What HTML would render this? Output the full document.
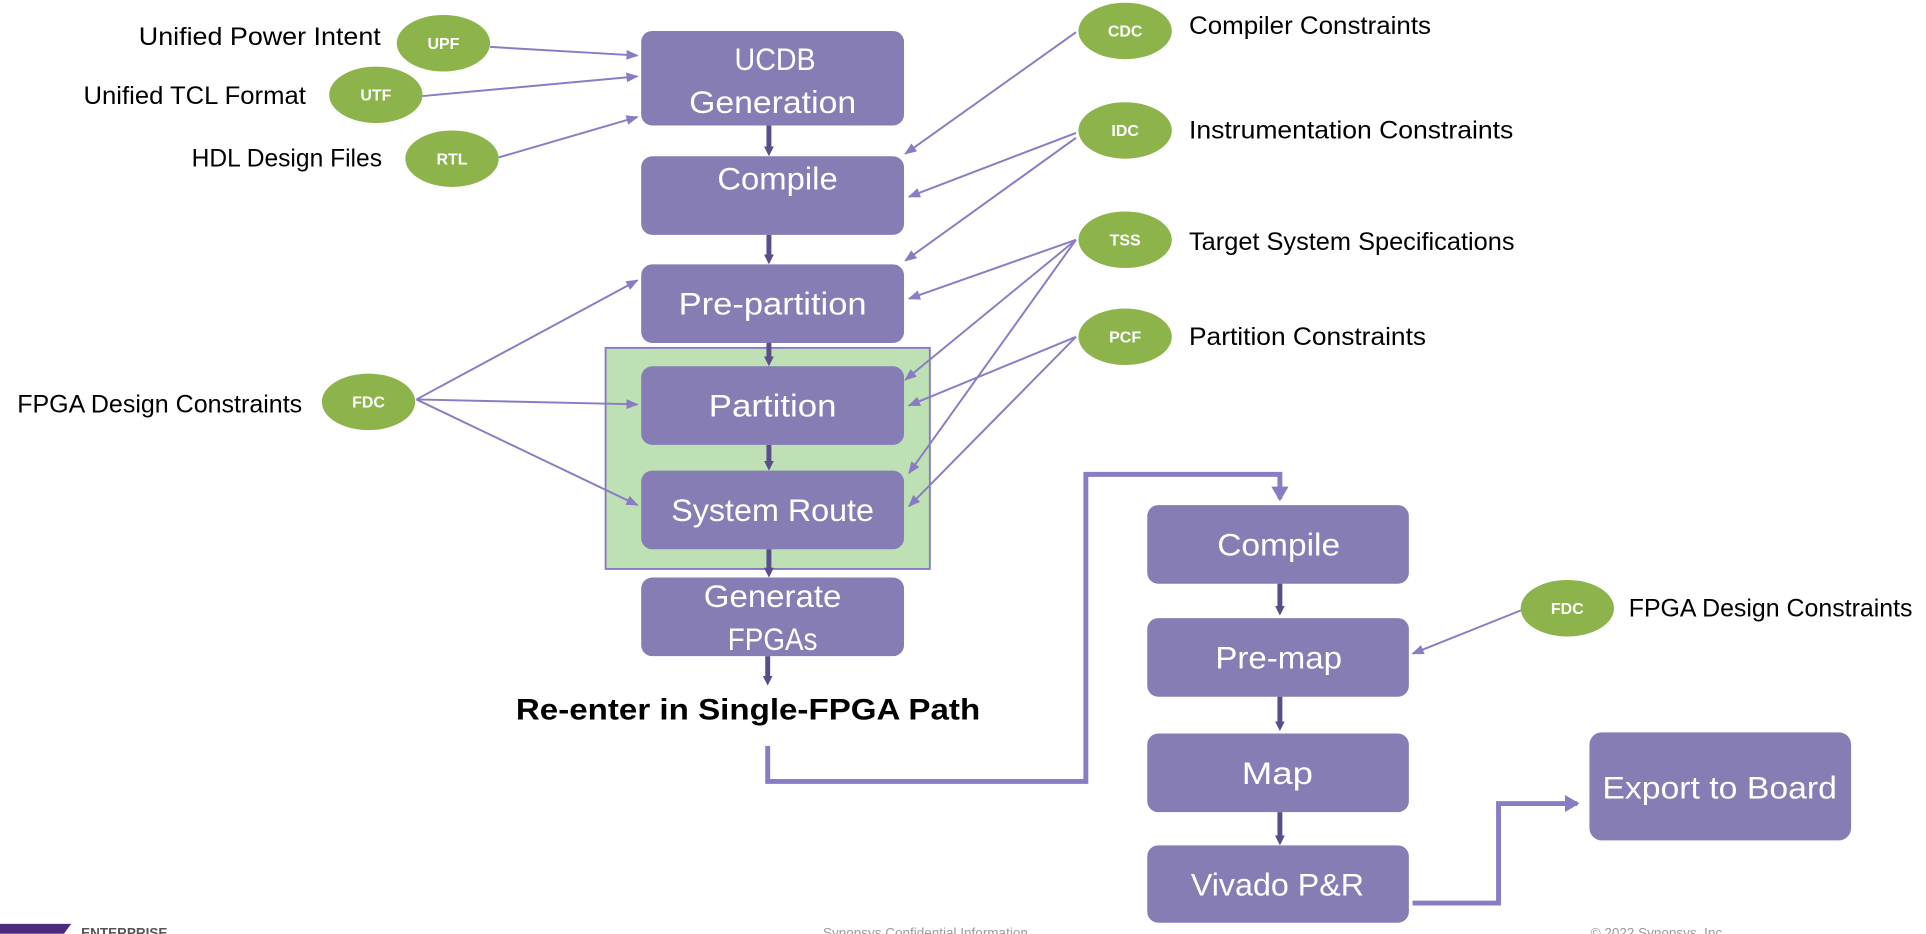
<!DOCTYPE html>
<html><head><meta charset="utf-8"><style>
html,body{margin:0;padding:0;background:#fff;}
svg{display:block;}
.bt{font-family:"Liberation Sans",sans-serif;fill:#fff;font-size:26px;text-anchor:middle;dominant-baseline:central;}
.lb{font-family:"Liberation Sans",sans-serif;fill:#000;font-size:20.5px;dominant-baseline:central;}
.el{font-family:"Liberation Sans",sans-serif;fill:#fff;font-size:13px;font-weight:bold;text-anchor:middle;dominant-baseline:central;}
.thin{stroke:#8a7cc4;stroke-width:1.6;fill:none;marker-end:url(#ah);}
.v{stroke:#5b4c8c;stroke-width:4;marker-end:url(#dh);}
</style></head><body>
<svg width="1926" height="934" viewBox="0 0 1568 760" xmlns="http://www.w3.org/2000/svg">
<defs>
<marker id="ah" markerWidth="10" markerHeight="8" refX="9" refY="4" orient="auto" markerUnits="userSpaceOnUse"><path d="M0,0 L10,4 L0,8 z" fill="#8a7cc4"/></marker>
<marker id="dh" markerWidth="8" markerHeight="8" refX="4" refY="4" orient="auto" markerUnits="userSpaceOnUse"><path d="M0,0 L8,4 L0,8 z" fill="#5b4c8c"/></marker>
<marker id="bh" markerWidth="14" markerHeight="14" refX="10" refY="7" orient="auto" markerUnits="userSpaceOnUse"><path d="M0,0 L12,7 L0,14 z" fill="#8a7cc4"/></marker>
</defs>
<rect x="493" y="283" width="264" height="180" fill="#bde0b5" stroke="#8777c0" stroke-width="1.5"/>
<g fill="#877db5">
<rect x="522" y="25" width="214" height="77" rx="9"/>
<rect x="522" y="127" width="214" height="64" rx="9"/>
<rect x="522" y="215" width="214" height="64" rx="9"/>
<rect x="522" y="298" width="214" height="64" rx="9"/>
<rect x="522" y="383" width="214" height="64" rx="9"/>
<rect x="522" y="470" width="214" height="64" rx="9"/>
<rect x="934" y="411" width="213" height="64" rx="9"/>
<rect x="934" y="503" width="213" height="64" rx="9"/>
<rect x="934" y="597" width="213" height="64" rx="9"/>
<rect x="934" y="688" width="213" height="63" rx="9"/>
<rect x="1294" y="596" width="213" height="88" rx="10"/>
</g>
<g lengthAdjust="spacingAndGlyphs">
<text class="bt" x="631" y="48" textLength="66" lengthAdjust="spacingAndGlyphs">UCDB</text>
<text class="bt" x="629" y="83" textLength="136" lengthAdjust="spacingAndGlyphs">Generation</text>
<text class="bt" x="633" y="145" textLength="98" lengthAdjust="spacingAndGlyphs">Compile</text>
<text class="bt" x="629" y="247" textLength="153" lengthAdjust="spacingAndGlyphs">Pre-partition</text>
<text class="bt" x="629" y="330" textLength="104" lengthAdjust="spacingAndGlyphs">Partition</text>
<text class="bt" x="629" y="415" textLength="165" lengthAdjust="spacingAndGlyphs">System Route</text>
<text class="bt" x="629" y="485" textLength="112" lengthAdjust="spacingAndGlyphs">Generate</text>
<text class="bt" x="629" y="520" textLength="73" lengthAdjust="spacingAndGlyphs">FPGAs</text>
<text class="bt" x="1041" y="443" textLength="100" lengthAdjust="spacingAndGlyphs">Compile</text>
<text class="bt" x="1041" y="535" textLength="103" lengthAdjust="spacingAndGlyphs">Pre-map</text>
<text class="bt" x="1040" y="629" textLength="58" lengthAdjust="spacingAndGlyphs">Map</text>
<text class="bt" x="1040" y="720" textLength="141" lengthAdjust="spacingAndGlyphs">Vivado P&amp;R</text>
<text class="bt" x="1400" y="641" textLength="191" lengthAdjust="spacingAndGlyphs">Export to Board</text>
</g>
<g class="v">
<line x1="626" y1="102" x2="626" y2="123"/>
<line x1="626" y1="191" x2="626" y2="211"/>
<line x1="626" y1="279" x2="626" y2="294"/>
<line x1="626" y1="362" x2="626" y2="379"/>
<line x1="626" y1="447" x2="626" y2="466"/>
<line x1="625" y1="534" x2="625" y2="554"/>
<line x1="1042" y1="475" x2="1042" y2="497"/>
<line x1="1042" y1="567" x2="1042" y2="591"/>
<line x1="1042" y1="661" x2="1042" y2="684"/>
</g>
<text x="609" y="578" font-family="Liberation Sans,sans-serif" font-weight="bold" font-size="24" text-anchor="middle" dominant-baseline="central" textLength="378" lengthAdjust="spacingAndGlyphs">Re-enter in Single-FPGA Path</text>
<polyline points="625,607 625,636 884,636 884,386 1042,386 1042,406" fill="none" stroke="#8a7cc4" stroke-width="4" marker-end="url(#bh)"/>
<polyline points="1150,735 1220,735 1220,654 1284,654" fill="none" stroke="#8a7cc4" stroke-width="4" marker-end="url(#bh)"/>
<g class="thin">
<line x1="399" y1="38" x2="519" y2="45"/>
<line x1="344" y1="78" x2="519" y2="62"/>
<line x1="406" y1="128" x2="519" y2="95"/>
<line x1="876" y1="26" x2="737" y2="125"/>
<line x1="876" y1="108" x2="740" y2="160"/>
<line x1="876" y1="112" x2="737" y2="212"/>
<line x1="876" y1="195" x2="740" y2="243"/>
<line x1="876" y1="195" x2="737" y2="309"/>
<line x1="876" y1="195" x2="740" y2="385"/>
<line x1="876" y1="274" x2="740" y2="330"/>
<line x1="876" y1="274" x2="740" y2="412"/>
<line x1="339" y1="325" x2="519" y2="228"/>
<line x1="339" y1="325" x2="519" y2="329"/>
<line x1="339" y1="325" x2="519" y2="411"/>
<line x1="1240" y1="496" x2="1150" y2="532"/>
</g>
<g fill="#8db44b">
<ellipse cx="361" cy="35" rx="38" ry="23"/>
<ellipse cx="306" cy="77" rx="38" ry="23"/>
<ellipse cx="368" cy="129" rx="38" ry="23"/>
<ellipse cx="300" cy="327" rx="38" ry="23"/>
<ellipse cx="916" cy="25" rx="38" ry="23"/>
<ellipse cx="916" cy="106" rx="38" ry="23"/>
<ellipse cx="916" cy="195" rx="38" ry="23"/>
<ellipse cx="916" cy="274" rx="38" ry="23"/>
<ellipse cx="1276" cy="495" rx="38" ry="23"/>
</g>
<text class="el" x="361" y="36">UPF</text>
<text class="el" x="306" y="78">UTF</text>
<text class="el" x="368" y="130">RTL</text>
<text class="el" x="300" y="328">FDC</text>
<text class="el" x="916" y="26">CDC</text>
<text class="el" x="916" y="107">IDC</text>
<text class="el" x="916" y="196">TSS</text>
<text class="el" x="916" y="275">PCF</text>
<text class="el" x="1276" y="496">FDC</text>
<text class="lb" x="113" y="30" textLength="197" lengthAdjust="spacingAndGlyphs">Unified Power Intent</text>
<text class="lb" x="68" y="78" textLength="181" lengthAdjust="spacingAndGlyphs">Unified TCL Format</text>
<text class="lb" x="156" y="129" textLength="155" lengthAdjust="spacingAndGlyphs">HDL Design Files</text>
<text class="lb" x="14" y="329" textLength="232" lengthAdjust="spacingAndGlyphs">FPGA Design Constraints</text>
<text class="lb" x="968" y="21" textLength="197" lengthAdjust="spacingAndGlyphs">Compiler Constraints</text>
<text class="lb" x="968" y="106" textLength="264" lengthAdjust="spacingAndGlyphs">Instrumentation Constraints</text>
<text class="lb" x="968" y="197" textLength="265" lengthAdjust="spacingAndGlyphs">Target System Specifications</text>
<text class="lb" x="968" y="274" textLength="193" lengthAdjust="spacingAndGlyphs">Partition Constraints</text>
<text class="lb" x="1326" y="495" textLength="231" lengthAdjust="spacingAndGlyphs">FPGA Design Constraints</text>
<path d="M0,752 L58,752 L52,760 L0,760 z" fill="#4b2a7e"/>
<text x="66" y="763" font-family="Liberation Sans,sans-serif" font-size="11" font-weight="bold" fill="#555">ENTERPRISE</text>
<text x="670" y="763" font-family="Liberation Sans,sans-serif" font-size="11" fill="#999">Synopsys Confidential Information</text>
<text x="1295" y="763" font-family="Liberation Sans,sans-serif" font-size="11" fill="#999">© 2022 Synopsys, Inc.</text>
</svg>
</body></html>
